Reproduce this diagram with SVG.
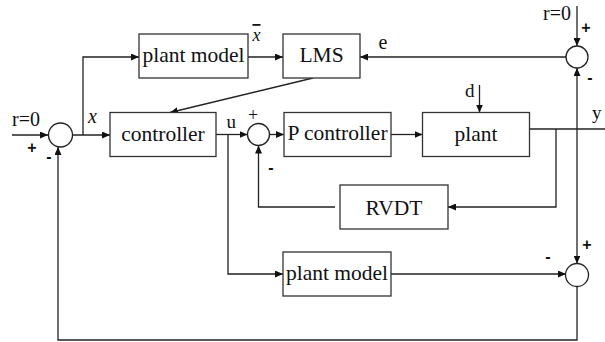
<svg xmlns="http://www.w3.org/2000/svg" width="605" height="342" viewBox="0 0 605 342">
<defs>
<marker id="ar" markerUnits="userSpaceOnUse" markerWidth="9" markerHeight="7" refX="8" refY="3.5" orient="auto">
<path d="M0,0 L8,3.5 L0,7 z" fill="#111"/>
</marker>
<style>
.box{fill:#fff;stroke:#333;stroke-width:1.3}
.sum{fill:#fff;stroke:#222;stroke-width:1.3}
.ln{fill:none;stroke:#222;stroke-width:1.3}
.arr{fill:none;stroke:#222;stroke-width:1.3;marker-end:url(#ar)}
.bt{font-family:"Liberation Serif","Times New Roman",serif;font-size:21.5px;fill:#111;text-anchor:middle}
.lb{font-family:"Liberation Serif","Times New Roman",serif;font-size:19px;fill:#111}
.it{font-family:"Liberation Serif","Times New Roman",serif;font-size:20px;font-style:italic;fill:#111}
.sg{font-family:"Liberation Sans",Arial,sans-serif;font-size:16px;font-weight:bold;fill:#111;text-anchor:middle}
</style>
</defs>
<rect width="605" height="342" fill="#fff"/>

<g id="connectors">
<path class="arr" d="M12,135 L48,135"/>
<path class="arr" d="M73,135 L110,135"/>
<path class="arr" d="M83,135 L83,57 L139,57"/>
<path class="arr" d="M248,57 L283,57"/>
<path class="arr" d="M313,78 L170,112.5"/>
<path class="arr" d="M566,57 L360,57"/>
<path class="arr" d="M577,6 L577,46"/>
<path class="arr" d="M216,134.5 L247.5,134.5"/>
<path class="arr" d="M269.5,134.5 L284,134.5"/>
<path class="arr" d="M391,134.5 L422.5,134.5"/>
<path class="arr" d="M479.5,85 L479.5,112.5"/>
<path class="ln" d="M529.5,129 L605,129"/>
<path class="arr" d="M556,129 L556,207 L448,207"/>
<path class="arr" d="M335,207 L258.5,207 L258.5,145.5"/>
<path class="arr" d="M228,134.5 L228,274 L283,274"/>
<path class="arr" d="M391,274 L566,274"/>
<path class="arr" d="M577,129 L577,263.5"/>
<path class="arr" d="M577,129 L577,68"/>
<path class="arr" d="M577,286.5 L577,340 L58,340 L58,147"/>
</g>

<g id="sum1"><circle class="sum" cx="60.5" cy="135" r="12"/></g>
<g id="sum2"><circle class="sum" cx="258.5" cy="134.5" r="11"/></g>
<g id="sum3"><circle class="sum" cx="577" cy="57" r="11"/></g>
<g id="sum4"><circle class="sum" cx="577" cy="275" r="11.5"/></g>

<g id="plant-model-top"><rect class="box" x="139" y="34" width="109" height="44"/><text class="bt" x="193.5" y="62">plant model</text></g>
<g id="lms"><rect class="box" x="283" y="34" width="77" height="44"/><text class="bt" x="321.5" y="62">LMS</text></g>
<g id="controller"><rect class="box" x="110" y="112.5" width="106" height="44"/><text class="bt" x="163" y="141">controller</text></g>
<g id="p-controller"><rect class="box" x="284" y="112.5" width="107" height="44"/><text class="bt" x="337.5" y="140">P controller</text></g>
<g id="plant"><rect class="box" x="422.5" y="112.5" width="107" height="44"/><text class="bt" x="476" y="141">plant</text></g>
<g id="rvdt"><rect class="box" x="340" y="185" width="108" height="44"/><text class="bt" x="394" y="215">RVDT</text></g>
<g id="plant-model-bottom"><rect class="box" x="283" y="252" width="108" height="44"/><text class="bt" x="337" y="280">plant model</text></g>

<g id="labels">
<text class="lb" x="12" y="126" style="font-size:20px">r=0</text>
<text class="lb" x="543" y="20" style="font-size:20px">r=0</text>
<text class="it" x="88" y="122.5">x</text>
<text class="it" x="252.5" y="41" style="font-size:18px;text-decoration:overline">x</text>
<text class="lb" x="226.5" y="127.5">u</text>
<text class="lb" x="378.5" y="49" style="font-size:20px">e</text>
<text class="lb" x="465" y="97">d</text>
<text class="lb" x="592" y="118.5">y</text>
<text class="sg" x="32" y="153">+</text>
<text class="sg" x="49" y="161.5">-</text>
<text class="lb" x="253" y="121" style="font-size:18px;text-anchor:middle">+</text>
<text class="sg" x="271" y="172.5">-</text>
<text class="sg" x="586" y="32.5">+</text>
<text class="sg" x="590" y="83">-</text>
<text class="sg" x="587" y="249.5">+</text>
<text class="sg" x="548" y="262">-</text>
</g>
</svg>
